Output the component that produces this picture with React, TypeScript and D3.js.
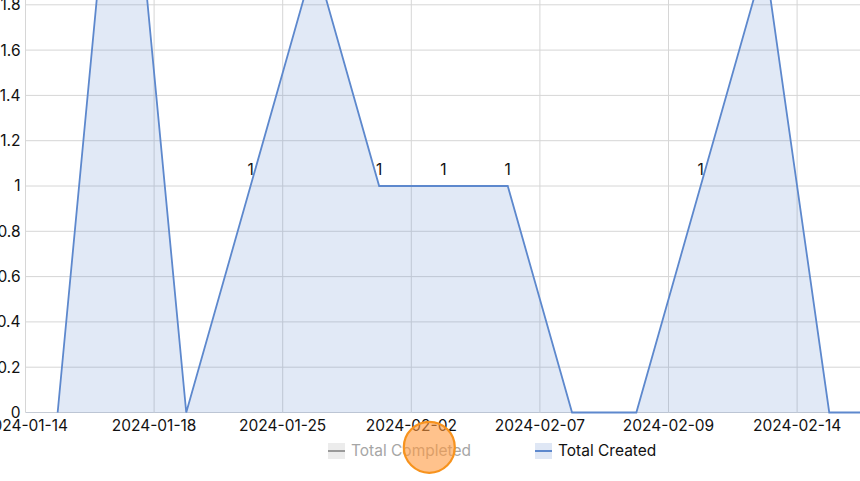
import React, { useEffect, useRef } from "react";
import * as d3 from "d3";

// categories (one per data point); only every other one gets an axis label
const categories = [
  "2024-01-14",
  "2024-01-16",
  "2024-01-18",
  "2024-01-23",
  "2024-01-25",
  "2024-01-30",
  "2024-02-02",
  "2024-02-05",
  "2024-02-07",
  "2024-02-08",
  "2024-02-09",
  "2024-02-12",
  "2024-02-14",
  "2024-02-15",
];
const totalCreated = [0, 3, 0, 1, 2, 1, 1, 1, 0, 0, 1, 2, 0, 0];
const tickLabels = categories.filter((_, i) => i % 2 === 0);
const yTicks = d3.range(0, 3.01, 0.2).map((v) => +v.toFixed(1));
const legendItems = [
  { name: "Total Completed", hidden: true },
  { name: "Total Created", hidden: false },
];

const W = 860;
const H = 481;
const FONT = "Inter, 'Noto Sans', sans-serif";
const FS = 15.5;

const App: React.FC = () => {
  const ref = useRef<SVGSVGElement | null>(null);

  useEffect(() => {
    if (!ref.current) return;
    const svg = d3.select(ref.current);
    svg.selectAll("*").remove();

    const left = 25.5;
    const band = 64.3;
    const zeroY = 412.5;
    const unit = 226.5;

    const x = d3
      .scaleBand<string>()
      .domain(categories)
      .range([left, left + band * categories.length])
      .padding(0);
    const cx = (c: string) => (x(c) || 0) + x.bandwidth() / 2;

    const y = d3
      .scaleLinear()
      .domain([0, 3.2])
      .range([zeroY, zeroY - 3.2 * unit]);

    const plotRight = left + band * categories.length;

    // horizontal grid
    svg
      .append("g")
      .selectAll("line")
      .data(yTicks)
      .join("line")
      .attr("x1", left)
      .attr("x2", plotRight)
      .attr("y1", (d) => y(d))
      .attr("y2", (d) => y(d))
      .attr("stroke", (d) => (d === 0 ? "#c6ccd6" : "#d6d6d6"))
      .attr("stroke-width", 1);

    // vertical grid at labelled categories
    svg
      .append("g")
      .selectAll("line")
      .data(tickLabels)
      .join("line")
      .attr("x1", (d) => x(d) || 0)
      .attr("x2", (d) => x(d) || 0)
      .attr("y1", y(3.2))
      .attr("y2", zeroY)
      .attr("stroke", "#d6d6d6")
      .attr("stroke-width", 1);

    // y labels
    svg
      .append("g")
      .selectAll("text")
      .data(yTicks)
      .join("text")
      .attr("x", 20.5)
      .attr("y", (d) => y(d))
      .attr("dy", "0.35em")
      .attr("text-anchor", "end")
      .attr("font-family", FONT)
      .attr("font-size", FS)
      .attr("fill", "#111")
      .text((d) => String(d));

    // x labels
    svg
      .append("g")
      .selectAll("text")
      .data(tickLabels)
      .join("text")
      .attr("x", (d) => x(d) || 0)
      .attr("y", 430.5)
      .attr("text-anchor", "middle")
      .attr("font-family", FONT)
      .attr("font-size", FS)
      .attr("fill", "#111")
      .text((d) => d);

    const pts = categories.map((c, i) => ({ c, v: totalCreated[i] }));

    const area = d3
      .area<{ c: string; v: number }>()
      .x((d) => cx(d.c))
      .y0(y(0))
      .y1((d) => y(d.v));
    const line = d3
      .line<{ c: string; v: number }>()
      .x((d) => cx(d.c))
      .y((d) => y(d.v));

    svg
      .append("path")
      .datum(pts)
      .attr("d", area)
      .attr("fill", "#5b87cf")
      .attr("fill-opacity", 0.18);
    svg
      .append("path")
      .datum(pts)
      .attr("d", line)
      .attr("fill", "none")
      .attr("stroke", "#5d88cd")
      .attr("stroke-width", 1.8)
      .attr("stroke-linejoin", "miter");

    // data labels
    svg
      .append("g")
      .selectAll("text")
      .data(pts.filter((d) => d.v > 0))
      .join("text")
      .attr("x", (d) => cx(d.c))
      .attr("y", (d) => y(d.v) - 11)
      .attr("text-anchor", "middle")
      .attr("font-family", FONT)
      .attr("font-size", FS)
      .attr("fill", "#111")
      .text((d) => String(d.v));

    // legend
    const legendX = [328, 535];
    const lg = svg.append("g");
    legendItems.forEach((item, i) => {
      const g = lg.append("g").attr("transform", `translate(${legendX[i]},451)`);
      g.append("rect")
        .attr("x", 0)
        .attr("y", -8)
        .attr("width", 17)
        .attr("height", 16)
        .attr("fill", item.hidden ? "#ececec" : "#dfe7f5");
      g.append("line")
        .attr("x1", 0)
        .attr("x2", 17)
        .attr("y1", 0)
        .attr("y2", 0)
        .attr("stroke", item.hidden ? "#9a9a9a" : "#5d88cd")
        .attr("stroke-width", 2);
      g.append("text")
        .attr("x", 23)
        .attr("y", 0)
        .attr("dy", "0.35em")
        .attr("font-family", FONT)
        .attr("font-size", FS)
        .attr("fill", item.hidden ? "#a6a6a6" : "#111")
        .text(item.name);
    });

    // touch indicator
    svg
      .append("circle")
      .attr("cx", 429.3)
      .attr("cy", 447.3)
      .attr("r", 25.5)
      .attr("fill", "#ff9a40")
      .attr("fill-opacity", 0.6)
      .attr("stroke", "#f7931e")
      .attr("stroke-width", 2.2);
  }, []);

  return (
    <svg
      ref={ref}
      width={W}
      height={H}
      style={{ position: "absolute", left: 0, top: 0, background: "#fff" }}
    />
  );
};

export default App;
